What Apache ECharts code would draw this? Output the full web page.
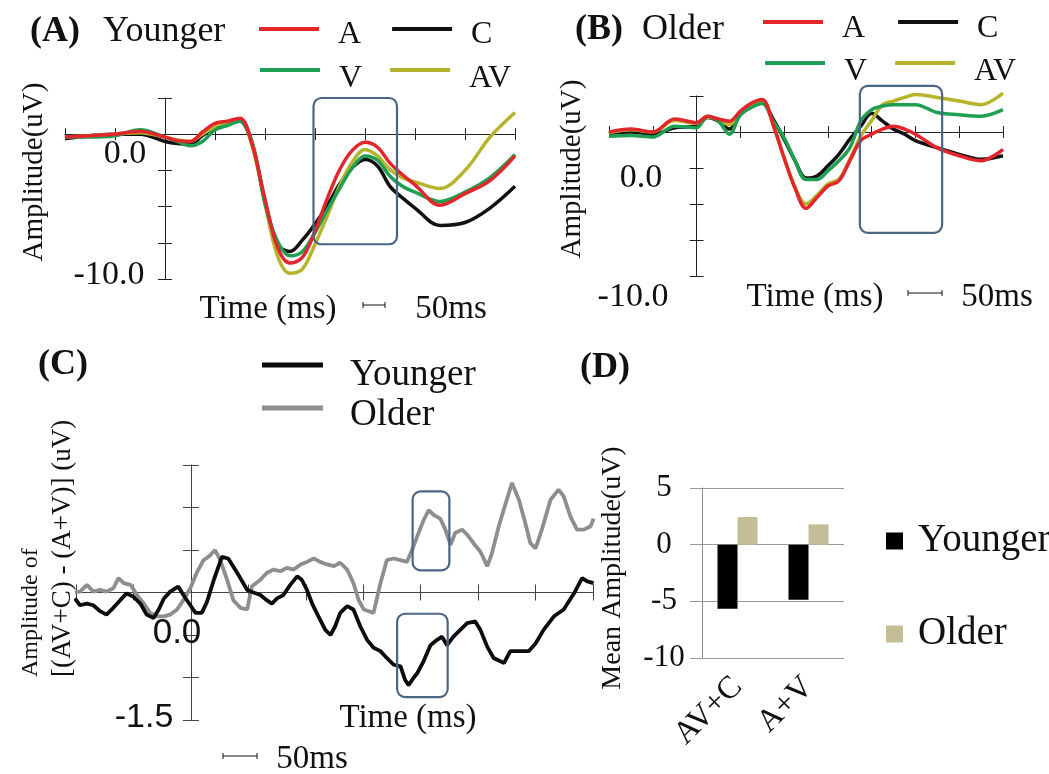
<!DOCTYPE html>
<html><head><meta charset="utf-8">
<script src="https://cdn.jsdelivr.net/npm/echarts@6/dist/echarts.min.js"></script>
<style>html,body{margin:0;padding:0;background:#fff}#c{width:1049px;height:774px}</style>
</head><body><div id="c"></div>
<script>
const SERIF = '"Liberation Serif","Times New Roman",serif';
const SANS = '"Liberation Sans",Arial,sans-serif';

// ---------- data ----------
const TIME_AB = [-200,-150,-100,-50,0,25,50,75,100,125,150,175,200,225,250,275,300,325,350,375,400,425,450,475,500,550,600,650,700];
// (A) Younger
const YOUNG_A  = [-0.2,-0.1,0,0.2,-0.2,-0.45,-0.5,0.15,0.75,0.9,1.1,-0.8,-4.5,-7.8,-8.9,-8.5,-6.7,-4.4,-2.4,-1.1,-0.55,-0.9,-2.0,-2.8,-3.5,-4.9,-4.1,-3.2,-1.5];
const YOUNG_V  = [-0.2,-0.2,-0.1,0.3,-0.2,-0.5,-0.8,-0.5,0.3,0.6,0.9,-0.6,-4.8,-7.4,-8.4,-8.1,-6.8,-5.2,-3.7,-2.3,-1.5,-1.8,-2.9,-3.6,-4.0,-4.65,-4.0,-3.0,-1.4];
const YOUNG_C  = [-0.3,-0.1,0,0,-0.5,-0.65,-0.7,-0.1,0.5,0.85,0.9,-0.8,-4.6,-7.6,-8.1,-7.3,-6.2,-4.9,-3.4,-2.3,-1.75,-2.2,-3.6,-4.4,-5.1,-6.3,-6.1,-5.1,-3.6];
const YOUNG_AV = [-0.2,-0.1,0,0.1,-0.2,-0.4,-0.5,0.0,0.5,0.8,1.05,-0.9,-4.8,-8.4,-9.6,-9.3,-7.6,-5.6,-3.5,-1.9,-1.05,-1.5,-2.45,-3.0,-3.3,-3.75,-2.5,-0.2,1.5];
// (B) Older
const OLD_A  = [0,0.2,0,0.9,0.65,1.1,0.9,0.75,1.45,2.0,2.25,0.5,-1.8,-3.9,-5.3,-4.55,-3.75,-3.4,-2.0,-0.6,-0.15,0.2,0.4,0.2,-0.15,-1.1,-1.65,-2.0,-1.2];
const OLD_V  = [-0.3,-0.25,-0.35,0.4,0.3,1.1,0.75,-0.15,1.2,1.7,2.0,0.75,-0.4,-2.0,-3.3,-3.3,-2.7,-2.0,-1.1,0.75,1.55,1.8,1.9,1.9,1.9,1.35,1.2,1.1,1.55];
const OLD_C  = [-0.1,0,-0.15,0.3,0.4,1.0,0.75,0.2,1.2,1.75,2.0,0.9,-0.5,-2.0,-3.2,-3.05,-2.35,-1.55,-0.5,0.4,1.3,0.75,0.2,-0.15,-0.6,-1.1,-1.55,-1.9,-1.65];
const OLD_AV = [-0.05,0.15,0,0.8,0.6,1.05,0.85,0.5,1.4,1.95,2.2,0.5,-1.8,-3.85,-5.0,-4.4,-3.6,-3.3,-1.9,-0.3,0.8,1.9,2.15,2.4,2.6,2.4,2.15,1.9,2.7];
// (C) difference waves
const DIFF_YOUNG_T = [-202,-193,-181,-170,-158,-147,-135,-123,-112,-100,-88,-77,-65,-56,-47,-36,-22,-13,-1,8,19,28,40,54,65,77,86,98,109,121,132,141,150,161,173,185,193,202,211,222,234,243,251,260,272,283,295,307,318,330,341,353,365,373,379,388,394,405,417,428,437,446,457,469,481,495,504,516,527,545,556,574,588,600,614,632,649,667,681,690,701];
const DIFF_YOUNG   = [-0.07,-0.15,-0.13,-0.15,-0.22,-0.26,-0.18,-0.09,-0.01,-0.05,-0.13,-0.26,-0.3,-0.2,-0.07,0.01,0.07,-0.03,-0.15,-0.24,-0.24,-0.11,0.15,0.42,0.4,0.27,0.17,0.03,0.0,-0.03,-0.09,-0.13,-0.07,-0.03,0.09,0.19,0.15,0.03,-0.13,-0.28,-0.44,-0.5,-0.4,-0.24,-0.16,-0.2,-0.4,-0.56,-0.65,-0.69,-0.77,-0.85,-0.87,-1.03,-1.09,-1.0,-0.95,-0.81,-0.62,-0.56,-0.52,-0.62,-0.52,-0.44,-0.36,-0.34,-0.44,-0.64,-0.77,-0.83,-0.69,-0.69,-0.69,-0.6,-0.44,-0.28,-0.2,-0.01,0.17,0.13,0.11];
const DIFF_OLD_T = [-202,-193,-181,-170,-158,-147,-135,-126,-117,-105,-94,-82,-71,-59,-47,-36,-24,-13,-1,10,22,34,42,51,63,74,86,98,106,121,132,144,156,167,179,191,202,214,225,237,249,260,272,283,292,301,310,318,330,341,353,365,376,385,394,405,414,423,434,443,452,460,472,481,492,504,516,524,536,548,559,571,582,591,600,611,626,640,649,661,672,684,696,701];
const DIFF_OLD   = [0.0,0.01,0.09,0.01,0.03,0.01,0.05,0.17,0.11,0.09,-0.03,-0.13,-0.24,-0.28,-0.28,-0.26,-0.2,-0.09,0.05,0.23,0.38,0.44,0.5,0.38,0.15,-0.09,-0.18,-0.2,0.07,0.15,0.23,0.27,0.25,0.29,0.27,0.33,0.36,0.4,0.36,0.33,0.31,0.35,0.27,0.11,-0.09,-0.2,-0.22,-0.24,0.11,0.38,0.4,0.38,0.36,0.5,0.66,0.85,0.97,0.91,0.87,0.74,0.56,0.7,0.74,0.68,0.58,0.48,0.31,0.46,0.78,1.05,1.29,1.09,0.82,0.58,0.52,0.74,1.09,1.21,1.13,0.89,0.74,0.74,0.78,0.87];
// (D) mean amplitude
const BAR_CATEGORIES = ['AV+C','A+V'];
const BAR_YOUNG = [-5.65,-4.85];
const BAR_OLD = [2.44,1.79];
// highlighted windows [t0, t1, v0, v1]
const BOX_A = [297,464,2.5,-7.6];
const BOX_B = [373,561,3.2,-7.0];
const BOX_C_OLD = [386,450,1.19,0.26];
const BOX_C_YOUNG = [359,447,-0.25,-1.23];
// tick labels (placed as in the original figure)
const TICKS_AB = ['0.0','-10.0'];
const TICKS_C = ['0.0','-1.5'];

// ---------- styles ----------
const COL = {A:'#e3262b', V:'#1f9f52', C:'#111111', AV:'#b6b42c', young:'#0d0d0d', old:'#8e8e8e', barYoung:'#000000', barOld:'#c5bd98', box:'#4b6584', axis:'#222222', axisC:'#444444'};

function pairs(t, v){ return t.map((x,i)=>[x, v[i]]); }
function lineSeries(name, t, v, color, xi, yi, smooth, width){
  return {type:'line', name, data:pairs(t,v), xAxisIndex:xi, yAxisIndex:yi, showSymbol:false, symbol:'none',
    smooth, clip:false, lineStyle:{color, width}, itemStyle:{color}, emphasis:{disabled:true}, z:3};
}
function valAxes(gi, min, max, interval, tickLen, col, dim){
  const base = {gridIndex:gi, type:'value', min, max, interval, axisLabel:{show:false}, splitLine:{show:false}, axisPointer:{show:false}};
  const p = dim==='x' ? ['bottom','top'] : ['left','right'];
  return [
    Object.assign({}, base, {position:p[0], axisLine:{show:true,onZero:true,lineStyle:{color:col,width:1}}, axisTick:{show:true,length:tickLen,lineStyle:{color:col,width:1}}}),
    Object.assign({}, base, {position:p[1], axisLine:{show:false,onZero:true,lineStyle:{color:col,width:1}}, axisTick:{show:true,length:tickLen,lineStyle:{color:col,width:1}}})
  ];
}
// legend row: bar icon sits `off` px above the text centre (textY)
function lineLegend(left, textY, items, fs, off, bh, padLeft, gap, iw){
  const ih = 2 * off + bh;
  const icon = 'path://M0,0L' + iw + ',0L' + iw + ',' + bh + 'L0,' + bh + 'Z M0,' + ih + 'L0.01,' + ih;
  const top = textY - Math.max(fs, ih) / 2;
  return {left, top, padding:0, itemGap:gap, itemWidth:iw, itemHeight:ih, icon, symbolKeepAspect:false, orient:'horizontal', selectedMode:false,
    data: items.map(([n,c])=>({name:n, itemStyle:{color:c, borderWidth:0}})),
    formatter: n => '{t|' + n + '}',
    textStyle:{fontFamily:SERIF, fontSize:fs, color:'#111',
      rich:{t:{fontFamily:SERIF, fontSize:fs, color:'#111', padding:[0,0,0,padLeft]}}}};
}
function boxLegend(left, textY, items, fs, size, padLeft){
  return {left, top:textY - Math.max(fs, size)/2, padding:0, itemGap:10, itemWidth:size, itemHeight:size, icon:'rect', orient:'horizontal', selectedMode:false,
    data: items.map(([n,c])=>({name:n, itemStyle:{color:c, borderWidth:0}})),
    formatter: n => '{t|' + n + '}',
    textStyle:{fontFamily:SERIF, fontSize:fs, color:'#111',
      rich:{t:{fontFamily:SERIF, fontSize:fs, color:'#111', padding:[0,0,0,padLeft]}}}};
}

const xAxes = [].concat(
  valAxes(0,-200,700,100,6,COL.axis,'x'),
  valAxes(1,-200,700,100,6,COL.axis,'x'),
  valAxes(2,-200,700,100,8,COL.axisC,'x'),
  [{gridIndex:3, type:'category', data:BAR_CATEGORIES, axisLine:{show:false,onZero:false}, axisTick:{show:false},
    axisLabel:{rotate:45, interval:0, fontFamily:SERIF, fontSize:32, color:'#111', margin:24}, splitLine:{show:false}}]
);
const yAxes = [].concat(
  valAxes(0,-10,2.5,2.5,7,COL.axis,'y'),
  valAxes(1,-10,2.5,2.5,7,COL.axis,'y'),
  valAxes(2,-1.5,1.5,0.5,8,COL.axisC,'y'),
  [{gridIndex:3, type:'value', min:-10, max:5, interval:5,
    axisLine:{show:true, lineStyle:{color:'#8a8a8a'}}, axisTick:{show:true, length:12, lineStyle:{color:'#9a9a9a'}},
    axisLabel:{fontFamily:SERIF, fontSize:31, color:'#111', align:'center', margin:38},
    splitLine:{show:true, lineStyle:{color:'#9a9a9a', width:1}}}]
);

const option = {
  animation:false,
  backgroundColor:'#ffffff',
  grid:[
    {left:65, top:98, width:450, height:181},
    {left:609, top:96, width:394, height:180},
    {left:76, top:465, width:517, height:255},
    {left:702, top:488, width:142, height:170}
  ],
  xAxis:xAxes,
  yAxis:yAxes,
  legend:[
    lineLegend(259, 35, [['A',COL.A],['C',COL.C]], 32, 6, 4, 14, 31, 60),
    lineLegend(260, 79, [['V',COL.V],['AV',COL.AV]], 32, 9, 4, 14, 28, 60),
    lineLegend(763, 29, [['A',COL.A],['C',COL.C]], 32, 7, 4, 14, 33, 60),
    lineLegend(765, 72, [['V',COL.V],['AV',COL.AV]], 32, 9, 4, 14, 28, 60),
    lineLegend(262, 375, [['Younger',COL.young]], 37, 10, 5, 22, 10, 61),
    lineLegend(262, 415, [['Older',COL.old]], 37, 7, 5, 22, 10, 61),
    boxLegend(886, 541, [['Younger',COL.barYoung]], 39, 17, 10),
    boxLegend(886, 634, [['Older',COL.barOld]], 39, 17, 10)
  ],
  series:[
    lineSeries('C', TIME_AB, YOUNG_C, COL.C, 0, 0, 0.35, 3.5),
    lineSeries('AV', TIME_AB, YOUNG_AV, COL.AV, 0, 0, 0.35, 3.5),
    lineSeries('V', TIME_AB, YOUNG_V, COL.V, 0, 0, 0.35, 3.5),
    lineSeries('A', TIME_AB, YOUNG_A, COL.A, 0, 0, 0.35, 3.5),
    lineSeries('C', TIME_AB, OLD_C, COL.C, 2, 2, 0.35, 3.5),
    lineSeries('AV', TIME_AB, OLD_AV, COL.AV, 2, 2, 0.35, 3.5),
    lineSeries('V', TIME_AB, OLD_V, COL.V, 2, 2, 0.35, 3.5),
    lineSeries('A', TIME_AB, OLD_A, COL.A, 2, 2, 0.35, 3.5),
    lineSeries('Older', DIFF_OLD_T, DIFF_OLD, COL.old, 4, 4, false, 3.8),
    lineSeries('Younger', DIFF_YOUNG_T, DIFF_YOUNG, COL.young, 4, 4, false, 3.8),
    {type:'bar', name:'Younger', data:BAR_YOUNG, xAxisIndex:6, yAxisIndex:6, barWidth:20, barGap:'0%', itemStyle:{color:COL.barYoung}},
    {type:'bar', name:'Older', data:BAR_OLD, xAxisIndex:6, yAxisIndex:6, barWidth:20, barGap:'0%', itemStyle:{color:COL.barOld}}
  ]
};

const chart = echarts.init(document.getElementById('c'), null, {renderer:'canvas'});
chart.setOption(option);

// ---------- annotations ----------
function toPx(xi, yi, x, y){ return chart.convertToPixel({xAxisIndex:xi, yAxisIndex:yi}, [x, y]); }
function boxRect(xi, yi, b){
  const p0 = toPx(xi, yi, b[0], b[2]);
  const p1 = toPx(xi, yi, b[1], b[3]);
  return {type:'rect', z:20, silent:true,
    shape:{x:Math.min(p0[0],p1[0]), y:Math.min(p0[1],p1[1]), width:Math.abs(p1[0]-p0[0]), height:Math.abs(p1[1]-p0[1]), r:8},
    style:{fill:'rgba(0,0,0,0)', stroke:COL.box, lineWidth:2.2}};
}
function txt(text, x, y, font, align, rot){
  return {type:'text', x, y, rotation:rot||0, z:30, silent:true,
    style:{text, font, fill:'#111', align:align||'center', textAlign:align||'center', verticalAlign:'middle', textVerticalAlign:'middle'}};
}
function scaleBar(x1, x2, y){
  return [
    {type:'line', z:30, silent:true, shape:{x1, y1:y, x2, y2:y}, style:{stroke:'#111', lineWidth:1}},
    {type:'line', z:30, silent:true, shape:{x1, y1:y-3, x2:x1, y2:y+3}, style:{stroke:'#111', lineWidth:1}},
    {type:'line', z:30, silent:true, shape:{x1:x2, y1:y-3, x2, y2:y+3}, style:{stroke:'#111', lineWidth:1}}
  ];
}
const F = (s, b) => (b ? 'bold ' : '') + s + 'px ' + SERIF;
const FS = s => s + 'px ' + SANS;
const R = Math.PI / 2;

const elements = [
  boxRect(0, 0, BOX_A),
  boxRect(2, 2, BOX_B),
  boxRect(4, 4, BOX_C_OLD),
  boxRect(4, 4, BOX_C_YOUNG),
  // titles
  txt('(A)', 30, 32, F(36, true), 'left'),
  txt('Younger', 103, 32, F(36), 'left'),
  txt('(B)', 575, 30, F(36, true), 'left'),
  txt('Older', 642, 30, F(36), 'left'),
  txt('(C)', 38, 365, F(36, true), 'left'),
  txt('(D)', 580, 368, F(36, true), 'left'),
  // y axis titles
  txt('Amplitude(uV)', 34, 172, F(29), 'center', R),
  txt('Amplitude(uV)', 572, 169, F(29), 'center', R),
  txt('Amplitude of', 31, 677, F(24), 'left', R),
  txt('[(AV+C) - (A+V)] (uV)', 63, 677, F(27), 'left', R),
  txt('Mean Amplitude(uV)', 613, 568, F(28), 'center', R),
  // tick labels
  txt(TICKS_AB[0], 125, 154, F(34)),
  txt(TICKS_AB[1], 109, 275, F(34)),
  txt(TICKS_AB[0], 641, 178, F(34)),
  txt(TICKS_AB[1], 633, 297, F(34)),
  txt(TICKS_C[0], 177, 633, FS(35)),
  txt(TICKS_C[1], 144, 718, FS(34)),
  // x titles and scale bars
  txt('Time (ms)', 268, 309, F(33)),
  txt('50ms', 451, 309, F(33)),
  txt('Time (ms)', 815, 297, F(33)),
  txt('50ms', 997, 297, F(33)),
  txt('Time (ms)', 408, 718, F(33)),
  txt('50ms', 312, 759, F(33))
].concat(scaleBar(363, 385, 305), scaleBar(908, 942, 293), scaleBar(223, 257, 756));

chart.setOption({graphic:{elements}});
</script>
</body></html>
